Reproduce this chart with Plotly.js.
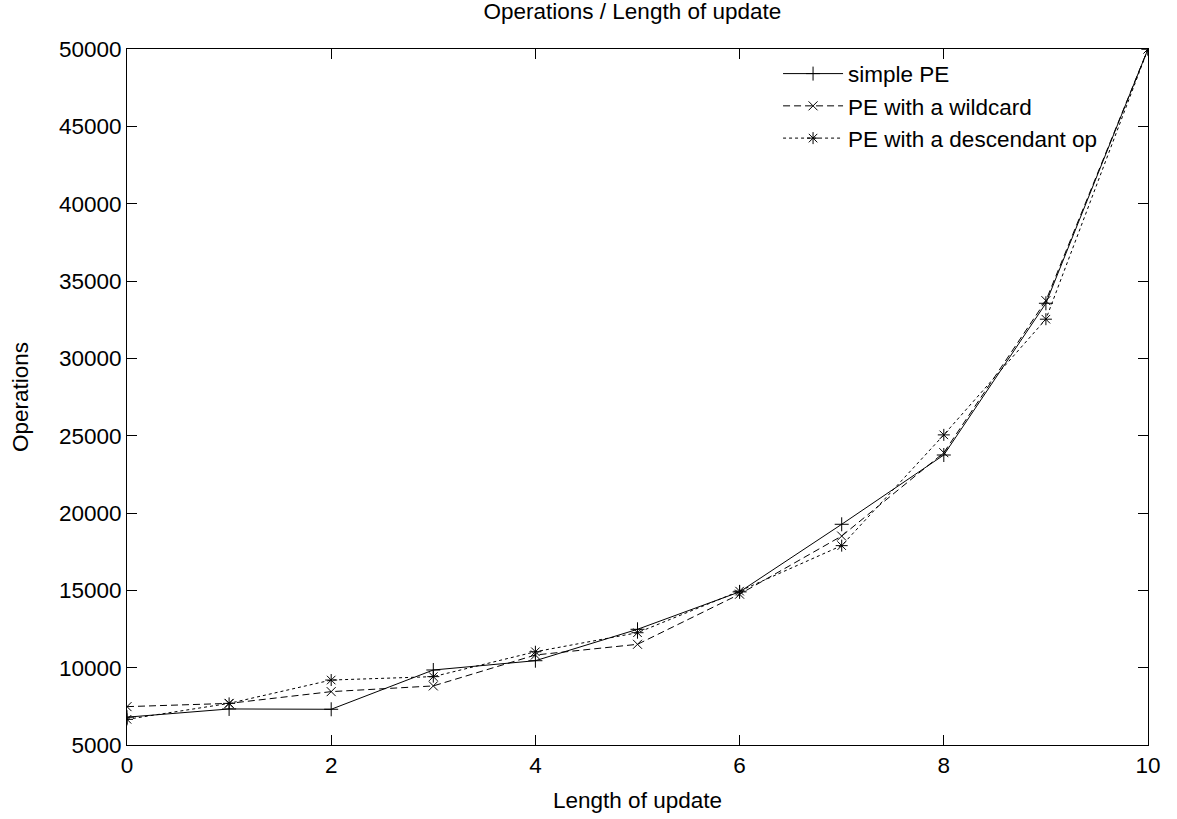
<!DOCTYPE html>
<html>
<head>
<meta charset="utf-8">
<script src="https://cdn.plot.ly/plotly-3.0.1.min.js"></script>
<style>html,body{margin:0;padding:0;background:#fff;}#chart{width:1177px;height:819px;}</style>
</head>
<body>
<div id="chart"></div>
<script>
const lengths = [0, 1, 2, 3, 4, 5, 6, 7, 8, 9, 10];
const simplePE = [6800, 7330, 7310, 9850, 10450, 12480, 14900, 19270, 23750, 33560, 50000];
const wildcardPE = [7480, 7690, 8450, 8820, 10820, 11510, 14750, 18510, 23900, 33730, 50000];
const descendantPE = [6660, 7690, 9200, 9420, 11030, 12260, 14950, 17890, 25050, 32530, 50000];
const seriesNames = ["simple PE", "PE with a wildcard", "PE with a descendant op"];

const FONT = "Liberation Sans, Arial, Helvetica, sans-serif";
const FS = 22.5;

const traces = [
  {x: lengths, y: simplePE, name: seriesNames[0], type: "scatter", mode: "lines+markers",
   line: {color: "#000", width: 1}, marker: {symbol: "cross-thin-open", size: 10, color: "#000", line: {width: 1, color: "#000"}}},
  {x: lengths, y: wildcardPE, name: seriesNames[1], type: "scatter", mode: "lines+markers",
   line: {color: "#000", width: 1, dash: "7px,4px"}, marker: {symbol: "x-thin-open", size: 9, color: "#000", line: {width: 1, color: "#000"}}},
  {x: lengths, y: descendantPE, name: seriesNames[2], type: "scatter", mode: "lines+markers",
   line: {color: "#000", width: 1, dash: "3px,3px"}, marker: {symbol: "asterisk-open", size: 10, color: "#000", line: {width: 1, color: "#000"}}}
];

const axisCommon = {
  showline: true, linecolor: "#000", linewidth: 1, mirror: "ticks",
  ticks: "inside", ticklen: 10, tickcolor: "#000", tickwidth: 1,
  showgrid: false, zeroline: false,
  tickfont: {family: FONT, size: FS, color: "#000"}
};

const layout = {
  width: 1177, height: 819,
  margin: {l: 127, r: 29, t: 49, b: 74},
  paper_bgcolor: "#fff", plot_bgcolor: "#fff",
  font: {family: FONT, size: FS, color: "#000"},
  title: {text: "Operations / Length of update", font: {family: FONT, size: FS, color: "#000"},
          x: 0.495, xref: "paper", xanchor: "center", y: 0.986, yanchor: "middle", yref: "container"},
  xaxis: Object.assign({}, axisCommon, {range: [0, 10], dtick: 2, tick0: 0,
    title: {text: "Length of update", font: {family: FONT, size: FS, color: "#000"}, standoff: 15}}),
  yaxis: Object.assign({}, axisCommon, {range: [5000, 50000], dtick: 5000, tick0: 5000, tickformat: "d",
    title: {text: "Operations", font: {family: FONT, size: FS, color: "#000"}, standoff: 24}}),
  legend: {x: 0.955, y: 0.995, xanchor: "right", yanchor: "top", bgcolor: "rgba(0,0,0,0)",
    borderwidth: 0, font: {family: FONT, size: FS, color: "#000"}, itemwidth: 60, tracegroupgap: 0},
  showlegend: true
};

Plotly.newPlot("chart", traces, layout, {displayModeBar: false, staticPlot: true});
</script>
</body>
</html>
